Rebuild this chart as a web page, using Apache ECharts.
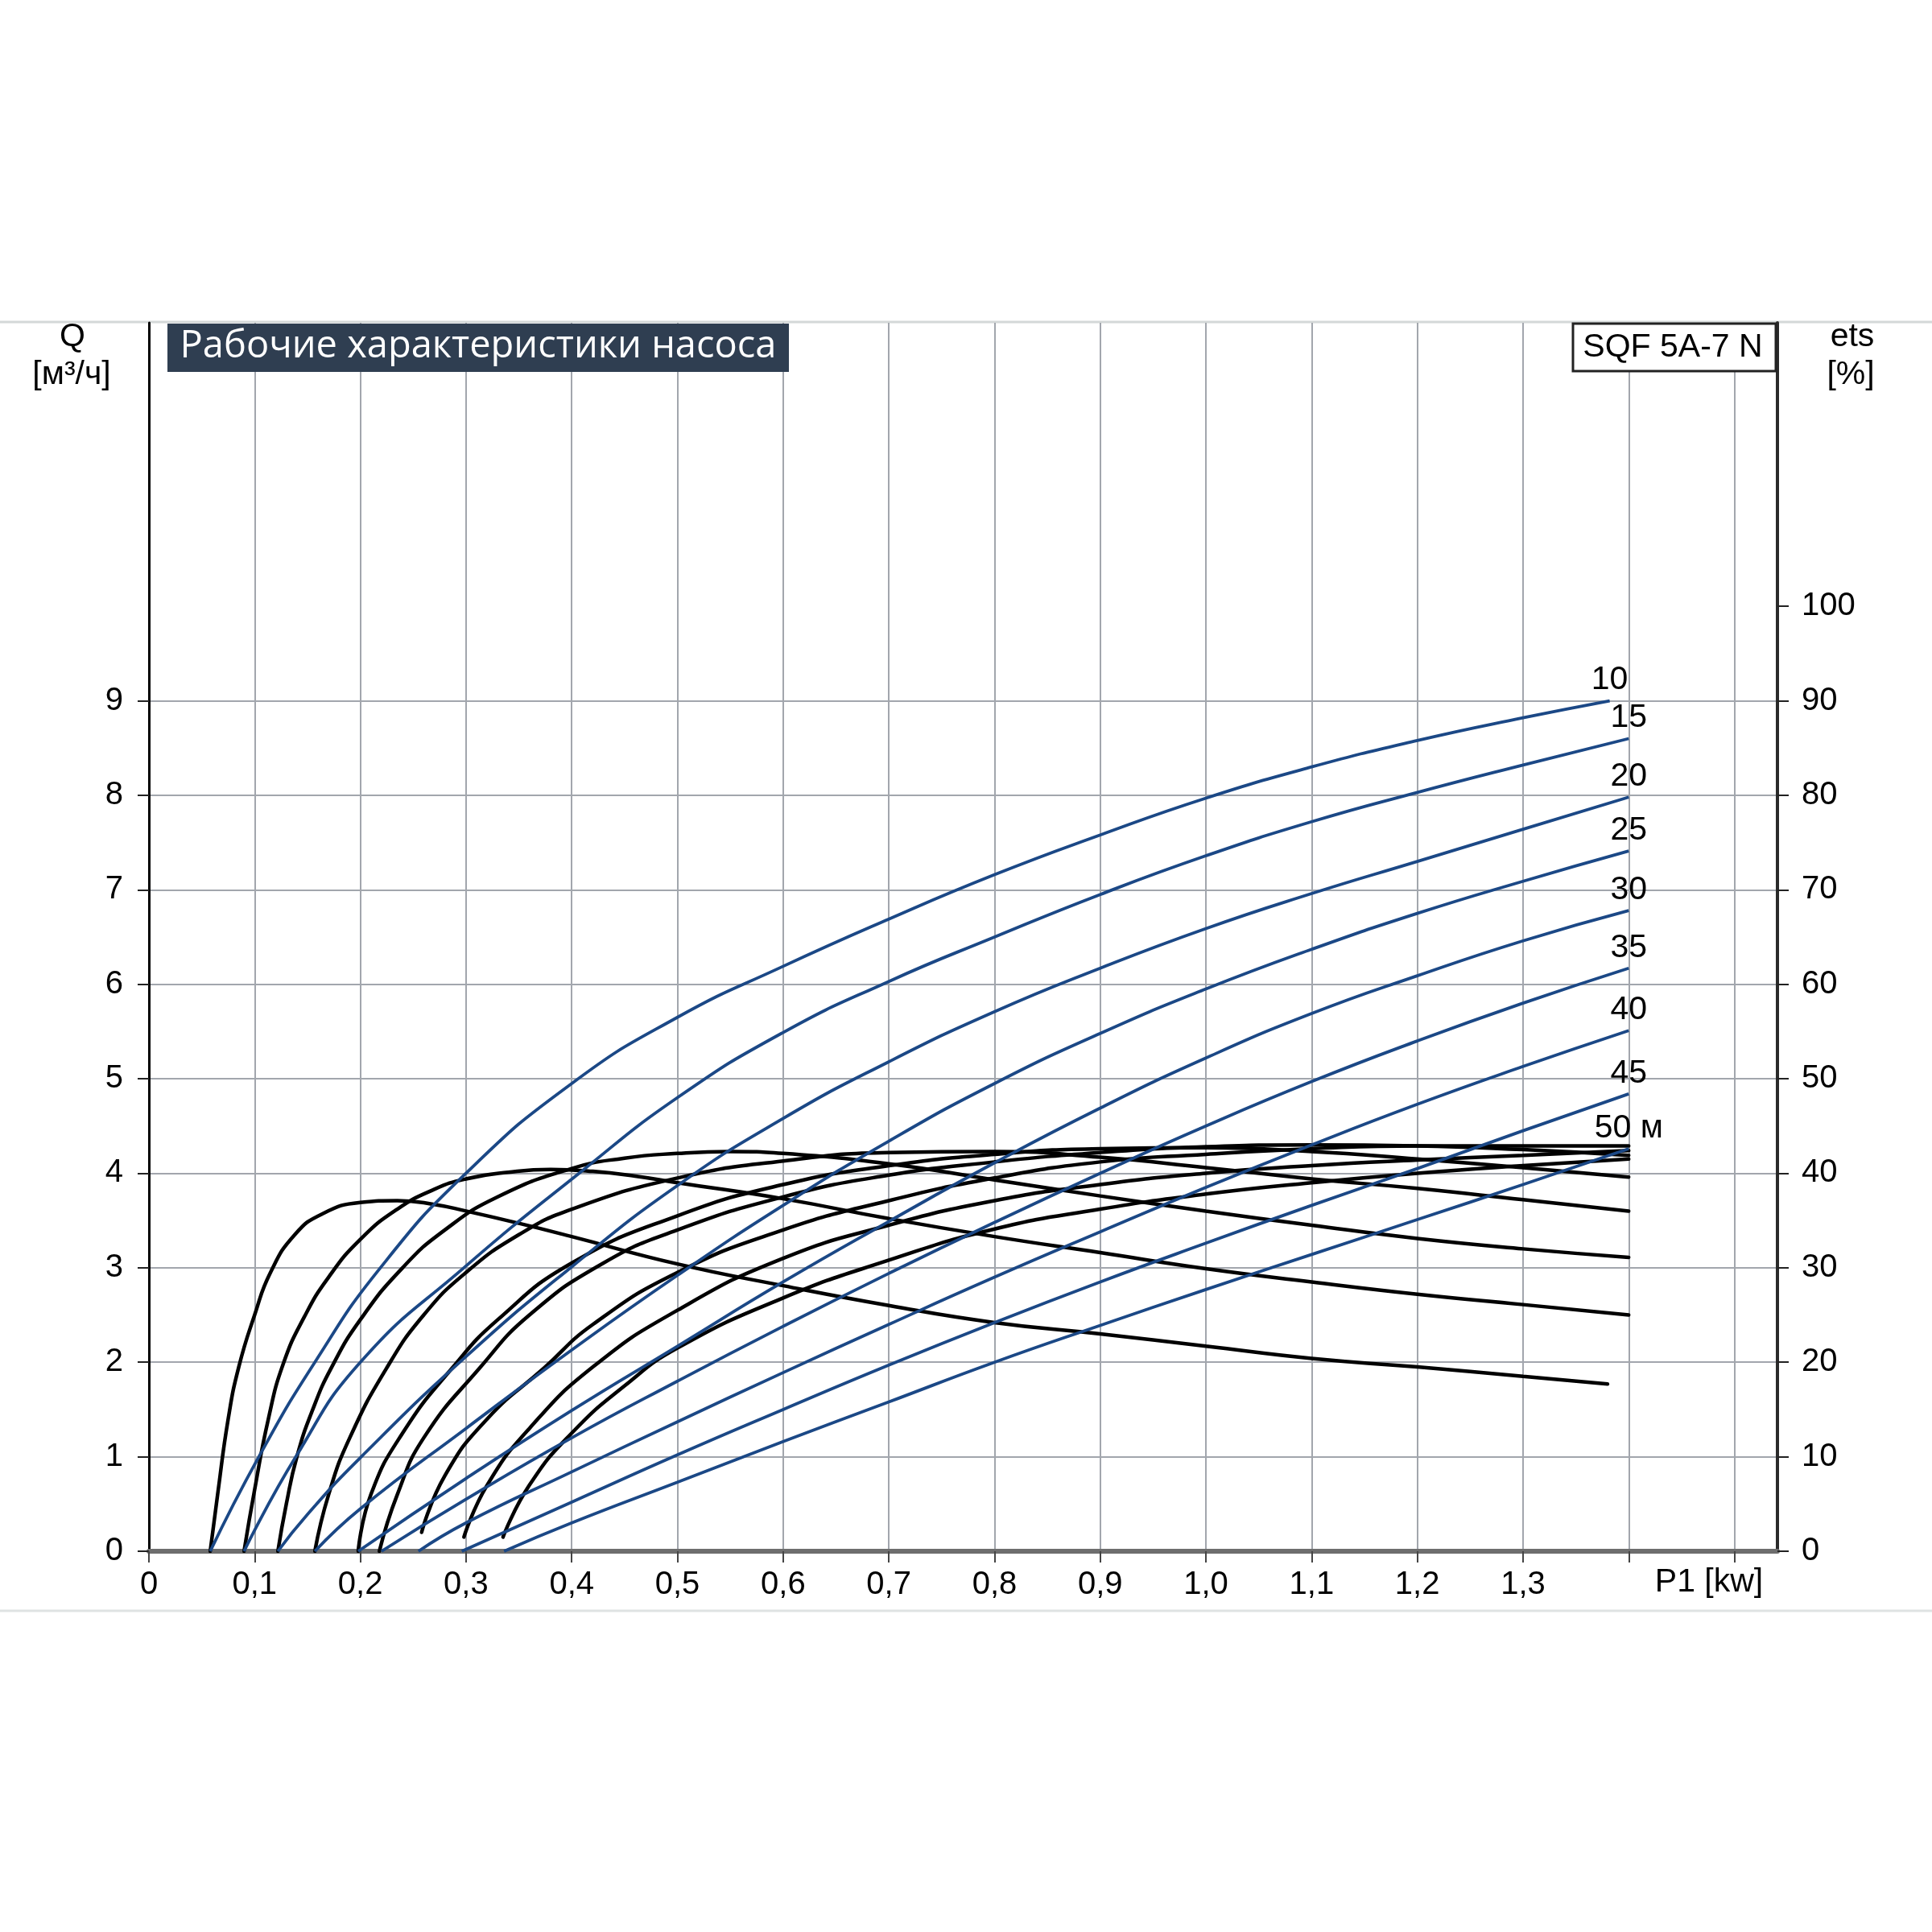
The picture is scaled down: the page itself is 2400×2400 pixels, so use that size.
<!DOCTYPE html>
<html><head><meta charset="utf-8">
<script src="https://cdn.jsdelivr.net/npm/echarts@6/dist/echarts.min.js"></script>
<style>html,body{margin:0;padding:0;background:#fff}#c{width:2400px;height:2400px}</style>
</head><body><div id="c"></div>
<script>
// ---- data ----
const heads = [10, 15, 20, 25, 30, 35, 40, 45, 50];
const headLabels = ['10', '15', '20', '25', '30', '35', '40', '45', '50 м'];

// Q [m3/h] vs P1 [kW] for each head
const flow10 = [[0.058,0],[0.104,1],[0.157,2],[0.219,3],[0.3,4],[0.4,4.95],[0.5,5.65],[0.6,6.19],[0.7,6.69],[0.8,7.16],[0.9,7.58],[1.0,7.97],[1.1,8.3],[1.2,8.58],[1.3,8.82],[1.382,9.0]];
const flow15 = [[0.09,0],[0.139,1],[0.2,2],[0.298,3],[0.407,4],[0.5,4.8],[0.6,5.49],[0.7,6.03],[0.8,6.5],[0.9,6.95],[1.0,7.36],[1.1,7.72],[1.2,8.03],[1.3,8.32],[1.4,8.6]];
const flow20 = [[0.122,0],[0.15,0.39],[0.2,0.99],[0.3,2.06],[0.4,3.01],[0.5,3.87],[0.6,4.58],[0.7,5.18],[0.8,5.71],[0.9,6.17],[1.0,6.59],[1.1,6.96],[1.2,7.3],[1.3,7.64],[1.4,7.98]];
const flow25 = [[0.157,0],[0.2,0.45],[0.3,1.3],[0.4,2.13],[0.5,2.92],[0.6,3.66],[0.7,4.34],[0.8,4.95],[0.9,5.48],[1.0,5.95],[1.1,6.37],[1.2,6.75],[1.3,7.09],[1.4,7.41]];
const flow30 = [[0.198,0],[0.3,0.77],[0.4,1.49],[0.5,2.17],[0.6,2.85],[0.7,3.49],[0.8,4.11],[0.9,4.69],[1.0,5.22],[1.1,5.69],[1.2,6.09],[1.3,6.46],[1.4,6.78]];
const flow35 = [[0.22,0],[0.3,0.55],[0.4,1.2],[0.5,1.8],[0.6,2.38],[0.7,2.94],[0.8,3.48],[0.9,4.0],[1.0,4.5],[1.1,4.97],[1.2,5.4],[1.3,5.8],[1.4,6.17]];
const flow40 = [[0.255,0],[0.3,0.3],[0.4,0.84],[0.5,1.37],[0.6,1.89],[0.7,2.4],[0.8,2.9],[0.9,3.38],[1.0,3.85],[1.1,4.3],[1.2,4.73],[1.3,5.13],[1.4,5.51]];
const flow45 = [[0.296,0],[0.4,0.52],[0.5,1.02],[0.6,1.5],[0.7,1.97],[0.8,2.42],[0.9,2.85],[1.0,3.26],[1.1,3.66],[1.2,4.05],[1.3,4.45],[1.4,4.84]];
const flow50 = [[0.336,0],[0.4,0.3],[0.5,0.73],[0.6,1.16],[0.7,1.58],[0.8,2.0],[0.9,2.39],[1.0,2.77],[1.1,3.14],[1.2,3.51],[1.3,3.88],[1.4,4.26]];

// efficiency [%] vs P1 [kW] for each head
const eff10 = [[0.058,0],[0.065,6],[0.075,14],[0.085,19.5],[0.1,25],[0.115,29.5],[0.138,33.5],[0.164,35.7],[0.2,36.9],[0.235,37.1],[0.27,36.7],[0.3,36.0],[0.35,34.7],[0.4,33.3],[0.5,30.4],[0.6,28.1],[0.7,26],[0.8,24.2],[0.9,23],[1.0,21.7],[1.1,20.4],[1.2,19.5],[1.3,18.5],[1.38,17.7]];
const eff15 = [[0.09,0],[0.1,6.5],[0.113,14],[0.127,19.8],[0.147,24.8],[0.17,29],[0.2,33],[0.235,36.2],[0.27,38.3],[0.3,39.4],[0.34,40.1],[0.38,40.4],[0.42,40.2],[0.46,39.7],[0.5,39.0],[0.6,37.3],[0.7,35.2],[0.8,33.3],[0.9,31.6],[1.0,29.9],[1.1,28.5],[1.2,27.2],[1.3,26.1],[1.4,25.0]];
const eff20 = [[0.122,0],[0.13,5],[0.14,10],[0.155,15],[0.173,19.5],[0.2,24.5],[0.24,30],[0.28,34],[0.33,37.5],[0.4,40.5],[0.45,41.6],[0.5,42.1],[0.55,42.3],[0.6,42.1],[0.7,41.0],[0.8,39.3],[0.9,37.6],[1.0,36.0],[1.1,34.5],[1.2,33.1],[1.3,32.0],[1.4,31.1]];
const eff25 = [[0.157,0],[0.17,6],[0.19,12],[0.225,19.4],[0.26,25],[0.3,29.5],[0.35,33.5],[0.4,36.2],[0.5,39.5],[0.6,41.3],[0.7,42.2],[0.8,42.3],[0.9,41.7],[1.0,40.6],[1.1,39.4],[1.2,38.4],[1.3,37.2],[1.4,36.0]];
const eff30 = [[0.198,0],[0.21,6],[0.24,12.5],[0.287,19.4],[0.33,24.5],[0.4,30.5],[0.5,35.5],[0.6,38.8],[0.7,40.8],[0.8,42.0],[0.9,42.6],[1.0,42.7],[1.1,42.3],[1.2,41.5],[1.3,40.6],[1.4,39.6]];
const eff35 = [[0.218,0],[0.235,6],[0.26,12],[0.313,19.4],[0.36,25],[0.43,30.5],[0.5,34],[0.6,37.5],[0.7,39.8],[0.8,41.2],[0.9,42.2],[1.0,42.8],[1.1,43.0],[1.2,42.9],[1.3,42.5],[1.4,41.9]];
const eff40 = [[0.258,2],[0.28,8],[0.32,14],[0.374,19.4],[0.42,24],[0.5,29.5],[0.6,34],[0.7,37.1],[0.8,39.5],[0.9,41.2],[1.0,42.0],[1.1,42.6],[1.2,42.9],[1.3,42.9],[1.4,42.9]];
const eff45 = [[0.298,1.5],[0.32,7],[0.36,13],[0.42,19.5],[0.5,25.5],[0.6,31],[0.7,34.5],[0.8,37.1],[0.9,38.8],[1.0,40.0],[1.1,40.8],[1.2,41.4],[1.3,41.9],[1.4,42.4]];
const eff50 = [[0.335,1.5],[0.36,7],[0.4,12.5],[0.45,17.5],[0.5,21.5],[0.6,26.8],[0.7,30.8],[0.8,34.1],[0.9,36.2],[1.0,37.8],[1.1,39.0],[1.2,40.0],[1.3,40.8],[1.4,41.5]];

// axis ticks and labels
const xLabelValues = [0,0.1,0.2,0.3,0.4,0.5,0.6,0.7,0.8,0.9,1.0,1.1,1.2,1.3];
const xLabelTexts = ['0','0,1','0,2','0,3','0,4','0,5','0,6','0,7','0,8','0,9','1,0','1,1','1,2','1,3'];
const xTickValues = [0,0.1,0.2,0.3,0.4,0.5,0.6,0.7,0.8,0.9,1.0,1.1,1.2,1.3,1.4,1.5];
const qLabelValues = [0,1,2,3,4,5,6,7,8,9];
const effLabelValues = [0,10,20,30,40,50,60,70,80,90,100];

const flows = [flow10, flow15, flow20, flow25, flow30, flow35, flow40, flow45, flow50];
const effs = [eff10, eff15, eff20, eff25, eff30, eff35, eff40, eff45, eff50];

// ---- chart ----
const FONT = '"Liberation Sans", Arial, sans-serif';
const BLUE = '#1b4886';
const GRID = '#a2a6ad';
const chart = echarts.init(document.getElementById('c'), null, {renderer: 'canvas'});

const series = [];
effs.forEach((d, i) => {
  series.push({
    type: 'line', name: 'eff ' + heads[i], yAxisIndex: 1, data: d,
    showSymbol: false, symbol: 'none', smooth: 0.5,
    lineStyle: {color: '#000', width: 4.5, cap: 'round'}, z: 3, silent: true, animation: false
  });
});
flows.forEach((d, i) => {
  series.push({
    type: 'line', name: headLabels[i], yAxisIndex: 0,
    data: d.map((p, j) => j === d.length - 1 ? {
      value: p,
      label: {show: true, position: 'top', distance: 5, formatter: headLabels[i],
        fontFamily: FONT, fontSize: 41, color: '#000'}
    } : {value: p}),
    showSymbol: true, symbol: 'circle', symbolSize: 0,
    smooth: 0.5,
    lineStyle: {color: BLUE, width: 3.8}, itemStyle: {color: BLUE}, z: 4, silent: true, animation: false
  });
});

const option = {
  animation: false,
  backgroundColor: '#fff',
  grid: {left: 185, right: 192, top: 401, bottom: 473, containLabel: false},
  xAxis: {
    type: 'value', min: 0, max: 1.5407, interval: 0.1,
    axisLine: {show: true, lineStyle: {color: '#6e6e6e', width: 6}},
    axisTick: {show: true, length: 14, customValues: xTickValues, lineStyle: {color: '#444', width: 2}},
    axisLabel: {show: true, customValues: xLabelValues, margin: 22, fontFamily: FONT, fontSize: 40, color: '#000',
      formatter: v => { const k = xLabelValues.findIndex(t => Math.abs(t - v) < 1e-6); return k >= 0 ? xLabelTexts[k] : ''; }},
    splitLine: {show: true, lineStyle: {color: GRID, width: 2}}
  },
  yAxis: [{
    type: 'value', min: 0, max: 13, interval: 1, position: 'left',
    axisLine: {show: true, lineStyle: {color: '#000', width: 3}},
    axisTick: {show: true, length: 14, customValues: qLabelValues, lineStyle: {color: '#222', width: 2}},
    axisLabel: {show: true, customValues: qLabelValues, margin: 32, fontFamily: FONT, fontSize: 40, color: '#000'},
    splitLine: {show: true, lineStyle: {color: GRID, width: 2}}
  }, {
    type: 'value', min: 0, max: 130, interval: 10, position: 'right',
    axisLine: {show: true, lineStyle: {color: '#2a2a2a', width: 4}},
    axisTick: {show: true, length: 14, customValues: effLabelValues, lineStyle: {color: '#222', width: 2}},
    axisLabel: {show: true, customValues: effLabelValues, margin: 30, fontFamily: FONT, fontSize: 40, color: '#000'},
    splitLine: {show: false}
  }],
  series: series,
  graphic: [
    {type: 'line', shape: {x1: 0, y1: 400, x2: 2400, y2: 400}, style: {stroke: '#d4d8d8', lineWidth: 3}, z: 0},
    {type: 'line', shape: {x1: 0, y1: 2001, x2: 2400, y2: 2001}, style: {stroke: '#dfe3e3', lineWidth: 3}, z: 0},
    {type: 'rect', shape: {x: 208, y: 402, width: 772, height: 60}, style: {fill: '#2f3e51'}, z: 10},
    {type: 'text', x: 594, y: 431, style: {text: 'Рабочие характеристики насоса', fill: '#fff', font: '47px "Open Sans", "Noto Sans", sans-serif', align: 'center', verticalAlign: 'middle'}, z: 11},
    {type: 'rect', shape: {x: 1954, y: 402, width: 252, height: 59}, style: {fill: '#fff', stroke: '#222', lineWidth: 3}, z: 10},
    {type: 'text', x: 2078, y: 432, style: {text: 'SQF 5A-7 N', fill: '#000', font: '41px "Liberation Sans", Arial, sans-serif', align: 'center', verticalAlign: 'middle'}, z: 11},
    {type: 'text', x: 90, y: 419, style: {text: 'Q', fill: '#000', font: '41px "Liberation Sans", Arial, sans-serif', align: 'center', verticalAlign: 'middle'}},
    {type: 'text', x: 89, y: 466, style: {text: '[м³/ч]', fill: '#000', font: '41px "Liberation Sans", Arial, sans-serif', align: 'center', verticalAlign: 'middle'}},
    {type: 'text', x: 2301, y: 419, style: {text: 'ets', fill: '#000', font: '41px "Liberation Sans", Arial, sans-serif', align: 'center', verticalAlign: 'middle'}},
    {type: 'text', x: 2299, y: 466, style: {text: '[%]', fill: '#000', font: '41px "Liberation Sans", Arial, sans-serif', align: 'center', verticalAlign: 'middle'}},
    {type: 'text', x: 2123, y: 1966, style: {text: 'P1 [kw]', fill: '#000', font: '41px "Liberation Sans", Arial, sans-serif', align: 'center', verticalAlign: 'middle'}}
  ]
};
chart.setOption(option);
</script>
</body></html>
